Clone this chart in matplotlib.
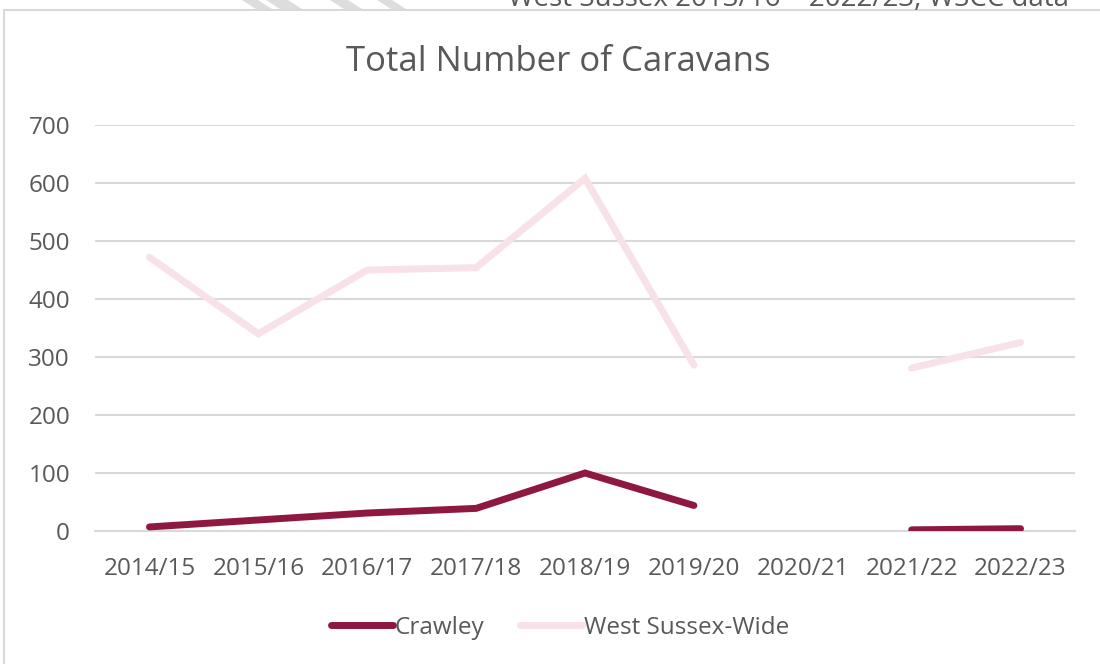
import numpy as np
import matplotlib.pyplot as plt
from matplotlib.patches import Rectangle, Polygon

# values (None = no data)
years = ["2014/15", "2015/16", "2016/17", "2017/18", "2018/19",
         "2019/20", "2020/21", "2021/22", "2022/23"]
crawley = [7, 19, 31, 39, 100, 44, None, 2, 4]
west_sussex = [472, 340, 450, 454, 608, 286, None, 281, 325]

CRAWLEY_COLOR = "#8E1840"
WS_COLOR = "#F9E1E8"
TEXT_COLOR = "#595959"
GRID_COLOR = "#D9D9D9"

plt.rcParams["font.family"] = ["Open Sans", "DejaVu Sans"]


def to_array(values):
    return np.array([np.nan if v is None else v for v in values], dtype=float)


W, H = 1100, 664
fig = plt.figure(figsize=(11, 6.64), dpi=100, facecolor="w")

# chart frame (runs past the right / bottom edge of the crop)
fig.patches.append(Rectangle((4 / W, -0.1), 1.2, 1 - 10 / H + 0.1,
                             transform=fig.transFigure, fill=False,
                             edgecolor=GRID_COLOR, linewidth=1.5))

# cut-off caption and stripes at the very top of the crop
fig.text(508 / W, 1 - 6 / H, "West Sussex 2013/16 \u2013 2022/23, WSCC data",
         fontsize=20, color=TEXT_COLOR, va="baseline", ha="left")
for x0, w in [(242, 16), (266, 22), (330, 18), (377, 15)]:
    pts = [(x0, 0), (x0 + w, 0), (x0 + w + 14, 9), (x0 + 14, 9)]
    pts = [(px / W, 1 - py / H) for px, py in pts]
    fig.patches.append(Polygon(pts, closed=True, transform=fig.transFigure,
                               facecolor="#DDDDDD", edgecolor="none"))

ax = fig.add_axes([95 / W, 1 - 531 / H, 980 / W, 406 / H])
x = np.arange(len(years))
ax.plot(x, to_array(crawley), color=CRAWLEY_COLOR, linewidth=5,
        solid_capstyle="round", solid_joinstyle="miter", label="Crawley", zorder=3)
ax.plot(x, to_array(west_sussex), color=WS_COLOR, linewidth=5,
        solid_capstyle="round", solid_joinstyle="miter", label="West Sussex-Wide", zorder=3)

ax.set_xlim(-0.5, len(years) - 0.5)
ax.set_ylim(0, 700)
ax.set_yticks(range(0, 701, 100))
ax.set_xticks(x)
ax.set_xticklabels(years)
ax.grid(axis="y", color=GRID_COLOR, linewidth=1.5)
ax.set_axisbelow(True)
for side in ["top", "right", "left"]:
    ax.spines[side].set_visible(False)
ax.spines["bottom"].set_color(GRID_COLOR)
ax.spines["bottom"].set_linewidth(1.5)
ax.tick_params(axis="both", length=0, labelsize=17.5, colors=TEXT_COLOR)
ax.tick_params(axis="y", pad=18)
ax.tick_params(axis="x", pad=19)

fig.text(558 / W, 1 - 62 / H, "Total Number of Caravans", fontsize=25,
         color=TEXT_COLOR, ha="center", va="center")

fig.legend(loc="center", bbox_to_anchor=(560 / W, 1 - 628 / H), ncol=2,
           frameon=False, fontsize=17.5, labelcolor=TEXT_COLOR,
           handlelength=2.55, handletextpad=0.1, columnspacing=1.45)

fig.savefig("out.png", dpi=100)
